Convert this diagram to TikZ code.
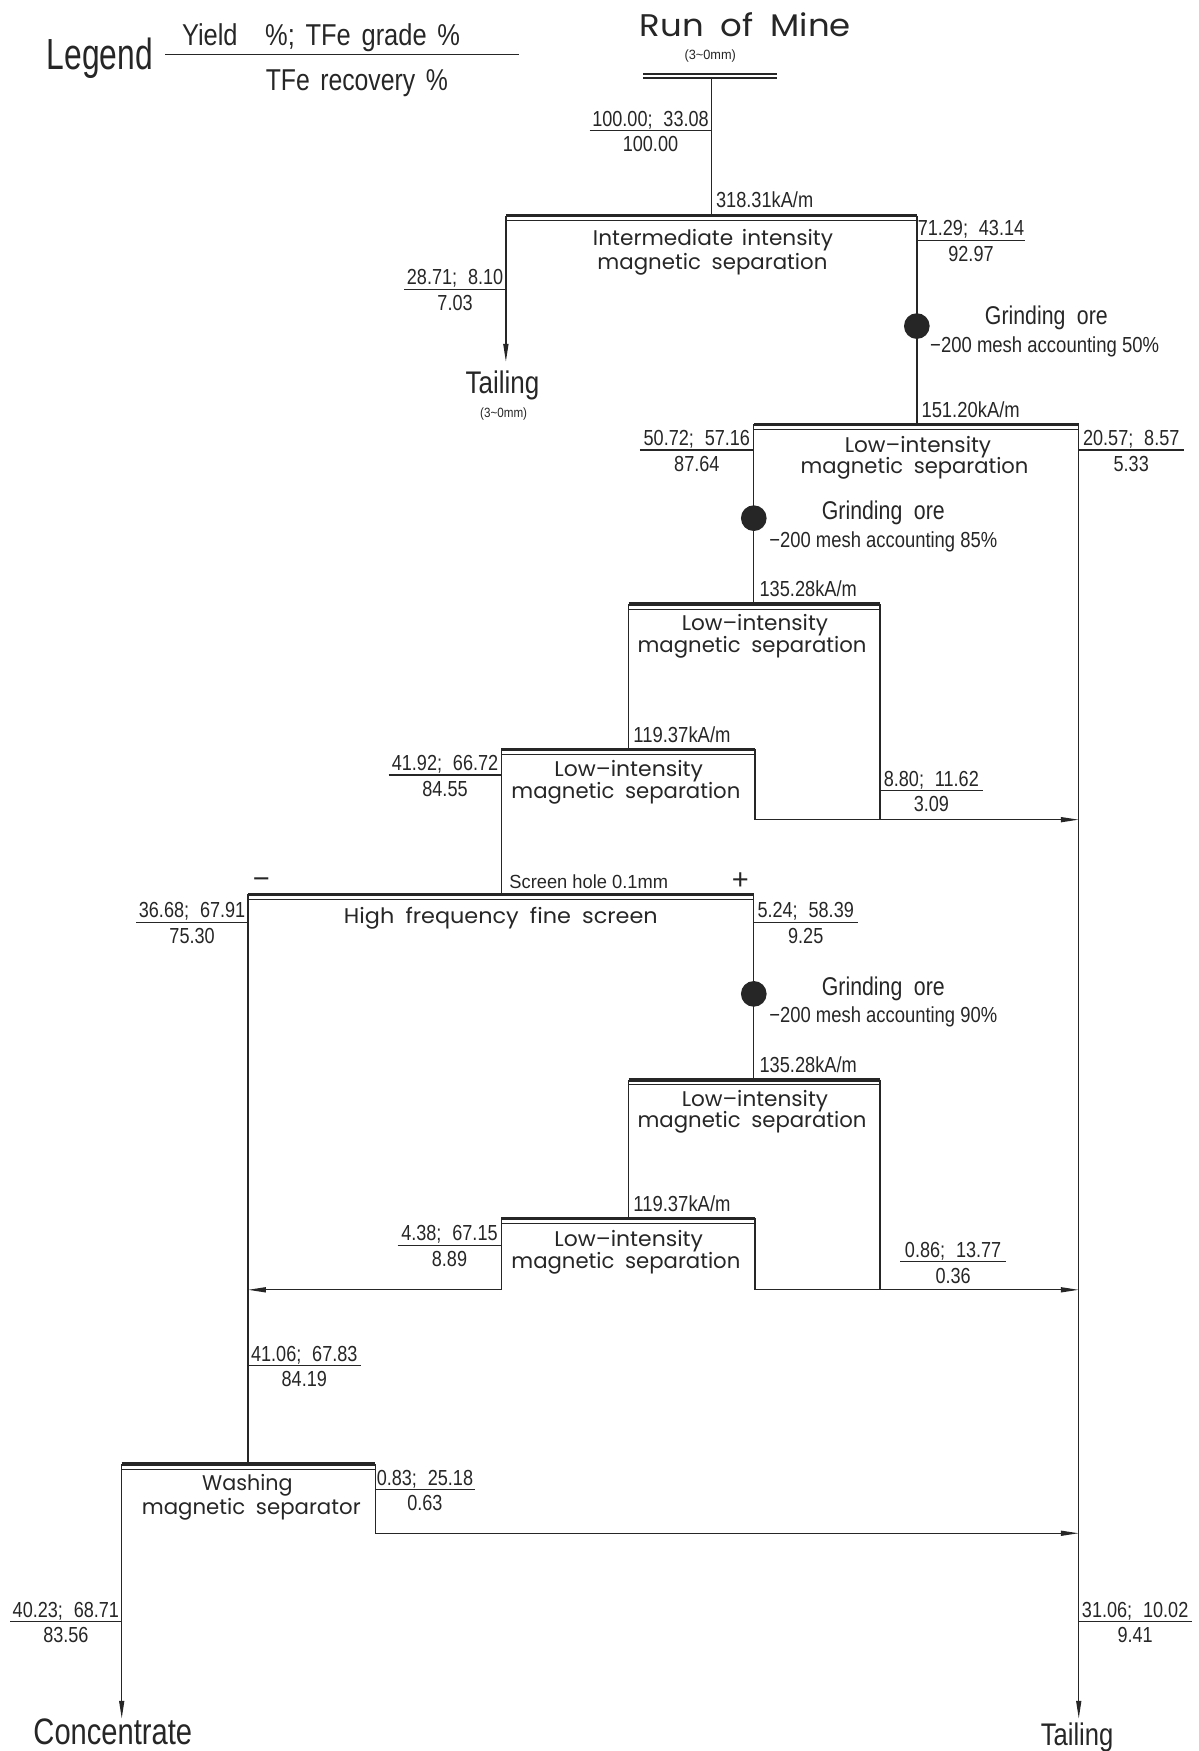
\documentclass[tikz,border=0pt]{standalone}
\usepackage{fontspec}
\usetikzlibrary{arrows.meta}
\setmainfont{Liberation Sans}
\newfontfamily\cnd[FakeStretch=0.83]{Liberation Sans}
\newfontfamily\prc{Poppins}
\definecolor{ink}{HTML}{262626}
\newcommand\W[2]{\resizebox{#1pt}{\height}{#2}}
\tikzset{
  flow/.style={draw=ink, line width=1.2pt},
  arr/.style={flow, -{Triangle[length=16pt,width=4.5pt]}},
  num/.style={inner sep=0pt, text=ink, font=\cnd\fontsize{19.5}{19.5}\selectfont},
  proc/.style={inner sep=0pt, text=ink, font=\prc\fontsize{19}{19}\selectfont},
  dot/.style={circle, fill=ink, inner sep=0pt, minimum size=23pt},
}
% separator bar: name, x1, x2, y
\newcommand\sepbar[4]{%
  \coordinate (#1L) at (#2,#4); \coordinate (#1R) at (#3,#4);
  \coordinate (#1l) at (#2,{#4+4.5}); \coordinate (#1r) at (#3,{#4+4.5});
  \draw[ink, line width=3pt] (#1L) -- (#1R);
  \draw[ink, line width=0.9pt] (#1l) -- (#1r);}
% flow label: name, x1, x2, y, top, bottom
\newcommand\flab[6]{%
  \coordinate (#1a) at (#2,#4); \coordinate (#1b) at (#3,#4);
  \draw[ink, line width=1pt] (#1a) -- (#1b);
  \node[num, anchor=base] (#1t) at ({(#2+#3)/2},{#4-4}) {#5};
  \node[num, anchor=base] (#1u) at ({(#2+#3)/2},{#4+19}) {#6};}
% process text: name, cx, baseline, width, text
\newcommand\ptext[5]{\node[proc, anchor=base] (#1) at (#2,#3) {\W{#4}{#5}};}
\newcommand\sep{;\hspace{0.5em}}
\newcommand\ms{magnetic\hspace{0.5em}separation}
\newcommand\gore{Grinding\hspace{0.45em}ore}
\begin{document}
\begin{tikzpicture}[x=1pt,y=-1pt]
\useasboundingbox (0,0) rectangle (1073,1568);

% Legend
\node[inner sep=0pt, anchor=base, text=ink, font=\cnd\fontsize{39}{39}\selectfont] (legend) at (89.5,62) {\W{95}{Legend}};
\coordinate (lgA) at (148,49); \coordinate (lgB) at (465,49);
\draw[ink, line width=1pt] (lgA) -- (lgB);
\node[inner sep=0pt, anchor=base, text=ink, font=\cnd\fontsize{27}{27}\selectfont] (lgtop) at (287.5,41) {\W{249}{Yield\hspace{0.9em}\%;\hspace{0.35em}TFe\hspace{0.35em}grade\hspace{0.35em}\%}};
\node[inner sep=0pt, anchor=base, text=ink, font=\cnd\fontsize{27}{27}\selectfont] (lgbot) at (319.5,81) {\W{163}{TFe\hspace{0.35em}recovery\hspace{0.35em}\%}};

% Run of mine
\node[proc, anchor=base, font=\prc\fontsize{28}{28}\selectfont] (rom) at (667.5,33) {\W{189}{Run\hspace{0.5em}of\hspace{0.5em}Mine}};
\node[num, anchor=base, font=\cnd\fontsize{12}{12}\selectfont] (romsz) at (636,53) {\W{46}{(3\textasciitilde 0mm)}};
\coordinate (romA) at (576,66); \coordinate (romB) at (696,66);
\coordinate (romC) at (576,70); \coordinate (romD) at (696,70);
\draw[ink, line width=1.5pt] (romA) -- (romB);
\draw[ink, line width=1.5pt] (romC) -- (romD);
\coordinate (feed) at (637,70);

% separator bars
\sepbar{b1}{453}{821}{193}
\sepbar{b2}{675}{966}{380}
\sepbar{b3}{563}{788}{541}
\sepbar{b4}{449}{676}{671}
\sepbar{sc}{222}{675}{801}
\sepbar{b5}{563}{788}{967}
\sepbar{b6}{449}{676}{1091}
\sepbar{bw}{109}{336}{1311}

\coordinate (b1in) at (637,193);
\coordinate (b2in) at (821,380);
\coordinate (b3in) at (675,541);
\coordinate (b4in) at (563,671);
\coordinate (scin) at (449,801);
\coordinate (b5in) at (675,967);
\coordinate (b6in) at (563,1091);
\coordinate (bwin) at (222,1311);

% process texts
\ptext{t1a}{638.5}{220}{215}{Intermediate\hspace{0.4em}intensity}
\ptext{t1b}{638}{241}{206}{\ms}
\ptext{t2a}{822}{405}{131}{Low–intensity}
\ptext{t2b}{819}{424}{204}{\ms}
\ptext{t3a}{676}{565}{131}{Low–intensity}
\ptext{t3b}{673.5}{584}{205}{\ms}
\ptext{t4a}{563}{695}{133}{Low–intensity}
\ptext{t4b}{560.5}{715}{205}{\ms}
\ptext{tsc}{448.5}{827}{281}{High\hspace{0.5em}frequency\hspace{0.5em}fine\hspace{0.5em}screen}
\ptext{t5a}{676}{991}{131}{Low–intensity}
\ptext{t5b}{673.5}{1010}{205}{\ms}
\ptext{t6a}{563}{1116}{133}{Low–intensity}
\ptext{t6b}{560.5}{1136}{205}{\ms}
\ptext{twa}{221.5}{1335}{81}{Washing}
\ptext{twb}{225}{1356}{196}{magnetic\hspace{0.5em}separator}

% field strengths
\node[num, anchor=base west] (k1) at (641,186) {\W{87}{318.31kA/m}};
\node[num, anchor=base west] (k2) at (825,374) {\W{88}{151.20kA/m}};
\node[num, anchor=base west] (k3) at (680,534) {\W{87}{135.28kA/m}};
\node[num, anchor=base west] (k4) at (567,665) {\W{87}{119.37kA/m}};
\node[num, anchor=base west] (k5) at (680,960) {\W{87}{135.28kA/m}};
\node[num, anchor=base west] (k6) at (567,1085) {\W{87}{119.37kA/m}};
\node[num, anchor=base west, font=\cnd\fontsize{17}{17}\selectfont] (hole) at (456,796) {\W{142}{Screen hole 0.1mm}};
\node[inner sep=0pt, text=ink, font=\fontsize{26}{26}\selectfont] (minus) at (234,791) {−};
\node[inner sep=0pt, text=ink, font=\fontsize{26}{26}\selectfont] (plus) at (663,789) {+};

% connectors
\draw[flow] (feed) -- (b1in);
\coordinate (tail1) at (453,324);
\draw[arr] (b1L) -- (tail1);
\draw[flow] (b1R) -- (b2in);
\coordinate (tail2) at (966,1539);
\draw[arr] (b2R) -- (tail2);
\draw[flow] (b2L) -- (b3in);
\draw[flow] (b3L) -- (b4in);
\coordinate (j1) at (788,734); \coordinate (j1a) at (676,734); \coordinate (m1) at (966,734);
\draw[flow] (b3R) -- (j1);
\draw[flow] (b4R) -- (j1a);
\draw[arr] (j1a) -- (m1);
\draw[flow] (b4L) -- (scin);
\draw[flow] (scR) -- (b5in);
\draw[flow] (b5L) -- (b6in);
\coordinate (j2) at (788,1155); \coordinate (j2a) at (676,1155); \coordinate (m2) at (966,1155);
\draw[flow] (b5R) -- (j2);
\draw[flow] (b6R) -- (j2a);
\draw[arr] (j2a) -- (m2);
\coordinate (j3) at (449,1155); \coordinate (m3) at (222,1155);
\draw[flow] (b6L) -- (j3);
\draw[arr] (j3) -- (m3);
\draw[flow] (scL) -- (bwin);
\coordinate (j4) at (336,1373); \coordinate (m4) at (966,1373);
\draw[flow] (bwR) -- (j4);
\draw[arr] (j4) -- (m4);
\coordinate (conc) at (109,1539);
\draw[arr] (bwL) -- (conc);

% grinding
\node[dot] (g1) at (821,292) {};
\node[dot] (g2) at (675,464) {};
\node[dot] (g3) at (675,890) {};
\node[num, anchor=base, font=\cnd\fontsize{23}{23}\selectfont] (g1a) at (937,291) {\W{110}{\gore}};
\node[num, anchor=base] (g1b) at (935.5,316) {\W{205}{−200 mesh accounting 50\%}};
\node[num, anchor=base, font=\cnd\fontsize{23}{23}\selectfont] (g2a) at (791,465) {\W{110}{\gore}};
\node[num, anchor=base] (g2b) at (791,490) {\W{204}{−200 mesh accounting 85\%}};
\node[num, anchor=base, font=\cnd\fontsize{23}{23}\selectfont] (g3a) at (791,891) {\W{110}{\gore}};
\node[num, anchor=base] (g3b) at (791,916) {\W{204}{−200 mesh accounting 90\%}};

% products
\node[inner sep=0pt, anchor=base, text=ink, font=\cnd\fontsize{28}{28}\selectfont] (tl1) at (450,352) {\W{66}{Tailing}};
\node[num, anchor=base, font=\cnd\fontsize{12}{12}\selectfont] (tl1s) at (451,374) {\W{42}{(3\textasciitilde 0mm)}};
\node[inner sep=0pt, anchor=base, text=ink, font=\cnd\fontsize{33}{33}\selectfont] (con) at (101,1562) {\W{142}{Concentrate}};
\node[inner sep=0pt, anchor=base, text=ink, font=\cnd\fontsize{28}{28}\selectfont] (tl2) at (964.5,1563) {\W{65}{Tailing}};

% flow labels
\flab{L1}{528}{637}{117}{100.00\sep33.08}{100.00}
\flab{L2}{362}{453}{259}{28.71\sep8.10}{7.03}
\flab{L3}{821}{918}{215}{71.29\sep43.14}{92.97}
\flab{L4}{573}{675}{403}{50.72\sep57.16}{87.64}
\flab{L5}{966}{1060}{403}{20.57\sep8.57}{5.33}
\flab{L6}{348}{449}{694}{41.92\sep66.72}{84.55}
\flab{L7}{788}{880}{708}{8.80\sep11.62}{3.09}
\flab{L8}{122}{222}{826}{36.68\sep67.91}{75.30}
\flab{L9}{675}{768}{826}{5.24\sep58.39}{9.25}
\flab{L10}{356}{449}{1115}{4.38\sep67.15}{8.89}
\flab{L11}{806}{901}{1130}{0.86\sep13.77}{0.36}
\flab{L12}{222}{323}{1223}{41.06\sep67.83}{84.19}
\flab{L13}{336}{425}{1334}{0.83\sep25.18}{0.63}
\flab{L14}{9}{109}{1452}{40.23\sep68.71}{83.56}
\flab{L15}{966}{1067}{1452}{31.06\sep10.02}{9.41}
\end{tikzpicture}
\end{document}
